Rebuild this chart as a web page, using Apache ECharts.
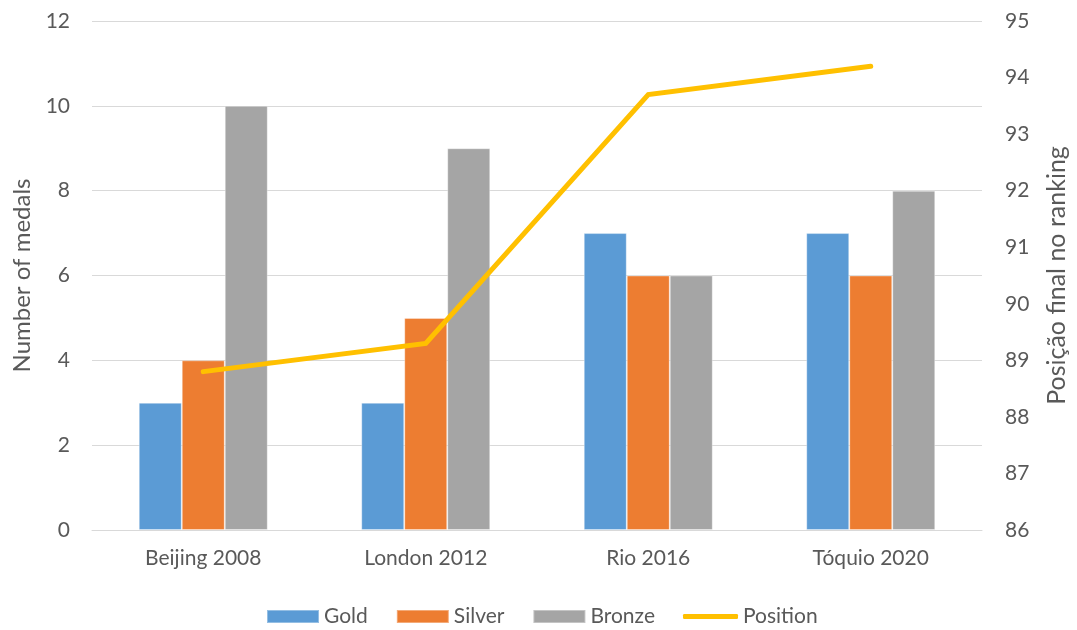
<!DOCTYPE html>
<html>
<head>
<meta charset="utf-8">
<script src="https://cdn.jsdelivr.net/npm/echarts@6/dist/echarts.min.js"></script>
<style>
  html, body { margin: 0; padding: 0; background: #fff; }
  #chart { width: 1077px; height: 630px; }
</style>
</head>
<body>
<div id="chart"></div>
<script>
// Olympic medal counts per Games, with final ranking position on a second axis
const games = ['Beijing 2008', 'London 2012', 'Rio 2016', 'Tóquio 2020'];
const gold = [3, 3, 7, 7];
const silver = [4, 5, 6, 6];
const bronze = [10, 9, 6, 8];
const position = [88.8, 89.3, 93.7, 94.2];

const FONT = 'Lato, "Open Sans", sans-serif';
const TEXT = '#595959';
const GRID = '#D9D9D9';

const chart = echarts.init(document.getElementById('chart'));

const barStyle = (color) => ({
  color: color,
  borderColor: 'rgba(255,255,255,0.35)',
  borderWidth: 1
});

const legendText = { fontFamily: FONT, fontSize: 21, color: TEXT };

chart.setOption({
  animation: false,
  textStyle: { fontFamily: FONT, color: TEXT },
  grid: { left: 92, right: 92, top: 21, bottom: 100, containLabel: false },
  legend: [
    {
      // bar series: filled rectangles
      left: 266,
      bottom: 3,
      padding: 0,
      itemWidth: 52,
      itemHeight: 13,
      itemGap: 28,
      icon: 'rect',
      textStyle: legendText,
      data: ['Gold', 'Silver', 'Bronze']
    },
    {
      // line series: a short thick stroke
      left: 683,
      bottom: 3,
      padding: 0,
      itemWidth: 55,
      itemHeight: 5,
      icon: 'roundRect',
      textStyle: legendText,
      data: ['Position']
    }
  ],
  xAxis: {
    type: 'category',
    data: games,
    axisLine: { show: true, lineStyle: { color: GRID, width: 1 } },
    axisTick: { show: false },
    axisLabel: { fontFamily: FONT, fontSize: 21, color: TEXT, margin: 18 }
  },
  yAxis: [
    {
      type: 'value',
      min: 0, max: 12, interval: 2,
      name: 'Number of medals',
      nameLocation: 'middle',
      nameGap: 58,
      nameRotate: 90,
      nameTextStyle: { fontFamily: FONT, fontSize: 24, color: TEXT },
      axisLine: { show: false },
      axisTick: { show: false },
      axisLabel: { fontFamily: FONT, fontSize: 21, color: TEXT, margin: 22 },
      splitLine: { show: true, lineStyle: { color: GRID, width: 1 } }
    },
    {
      type: 'value',
      min: 86, max: 95, interval: 1,
      name: 'Posição final no ranking',
      nameLocation: 'middle',
      nameGap: 62,
      nameRotate: 90,
      nameTextStyle: { fontFamily: FONT, fontSize: 25, color: TEXT },
      axisLine: { show: false },
      axisTick: { show: false },
      axisLabel: { fontFamily: FONT, fontSize: 21, color: TEXT, margin: 23 },
      splitLine: { show: false }
    }
  ],
  series: [
    { name: 'Gold', type: 'bar', data: gold, barWidth: 43, barGap: '0%', itemStyle: barStyle('#5B9BD5') },
    { name: 'Silver', type: 'bar', data: silver, barWidth: 43, barGap: '0%', itemStyle: barStyle('#ED7D31') },
    { name: 'Bronze', type: 'bar', data: bronze, barWidth: 43, barGap: '0%', itemStyle: barStyle('#A5A5A5') },
    {
      name: 'Position', type: 'line', yAxisIndex: 1, data: position,
      symbol: 'none', showSymbol: false,
      lineStyle: { color: '#FFC000', width: 5, cap: 'round', join: 'miter' },
      itemStyle: { color: '#FFC000' },
      z: 5
    }
  ]
});
</script>
</body>
</html>
